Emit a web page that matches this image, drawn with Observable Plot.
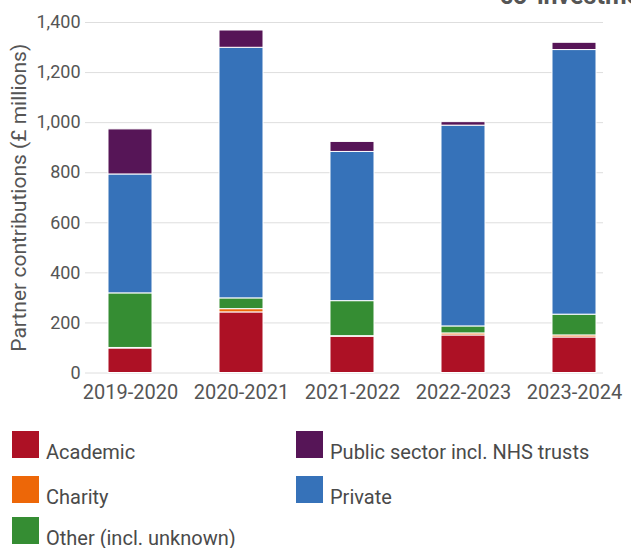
<!DOCTYPE html>
<html>
<head>
<meta charset="utf-8">
<script src="https://cdn.jsdelivr.net/npm/d3@7"></script>
<script src="https://cdn.jsdelivr.net/npm/@observablehq/plot@0.6"></script>
<style>
  html, body { margin: 0; padding: 0; background: #fff; overflow: hidden; }
  body { width: 631px; height: 548px; position: relative; font-family: Roboto, "Noto Sans", sans-serif; }
  #title { position: absolute; left: 500px; top: -16px; font: bold 25px/24px Roboto, sans-serif; color: #555; white-space: nowrap; }
  #legend { display: grid; grid-auto-flow: column; grid-template-rows: 45px 41px 41px; grid-template-columns: 284px 300px; padding-left: 12px; margin-top: 21px; }
  .item { display: flex; align-items: flex-start; }
  .sw { width: 27px; height: 27px; flex: none; }
  .lab { font-size: 20px; line-height: 20px; color: #4a4a4a; margin-left: 7px; margin-top: 11px; white-space: nowrap; }
</style>
</head>
<body>
<div id="title">co-investment</div>
<div id="chart"></div>
<div id="legend"></div>
<script>
const years = ["2019-2020", "2020-2021", "2021-2022", "2022-2023", "2023-2024"];
const categories = ["Academic", "Charity", "Other (incl. unknown)", "Private", "Public sector incl. NHS trusts"];
const academic = [98, 242, 145, 150, 142];
const charity  = [2, 13, 2, 8, 8];
const other    = [218, 43, 140, 28, 83];
const privateS = [475, 1001, 596, 802, 1057];
const publicS  = [180, 69, 40, 14, 29];
const yTicks = [0, 200, 400, 600, 800, 1000, 1200, 1400];
const legendOrder = ["Academic", "Charity", "Other (incl. unknown)", "Public sector incl. NHS trusts", "Private"];

const colors = ["#ad1125", "#ed6708", "#358d33", "#3672b9", "#561557"];
const series = [academic, charity, other, privateS, publicS];

const rows = [];
categories.forEach((c, i) => {
  years.forEach((y, j) => rows.push({year: y, category: c, value: series[i][j]}));
});

const chart = Plot.plot({
  width: 631,
  height: 410,
  marginLeft: 85,
  marginRight: 28,
  marginTop: 22,
  marginBottom: 37.5,
  style: {fontFamily: "Roboto, sans-serif", fontSize: "18px", color: "#555", background: "#fff"},
  x: {domain: years, range: [106.5, 598], paddingInner: 0.6, paddingOuter: 0},
  y: {domain: [0, 1400]},
  color: {domain: categories, range: colors},
  marks: [
    Plot.gridY(yTicks, {stroke: "#dedede", strokeOpacity: 1, strokeWidth: 1}),
    Plot.axisY(yTicks, {tickSize: 0, tickPadding: 5, fontSize: 18, tickFormat: d3.format(","),
      label: "Partner contributions (£ millions)", labelAnchor: "center", labelArrow: "none", labelOffset: 74}),
    Plot.axisX({tickSize: 0, tickPadding: 12, fontSize: 20, label: null}),
    Plot.barY(rows, {x: "year", y: "value", fill: "category", stroke: "#fff", strokeWidth: 1})
  ]
});
document.getElementById("chart").appendChild(chart);
// enlarge y axis label
chart.querySelectorAll("text").forEach(t => {
  if (t.textContent === "Partner contributions (£ millions)") t.setAttribute("font-size", 21);
});

const legend = document.getElementById("legend");
legendOrder.forEach(c => {
  const it = document.createElement("div");
  it.className = "item";
  const sw = document.createElement("div");
  sw.className = "sw";
  sw.style.background = colors[categories.indexOf(c)];
  const lab = document.createElement("span");
  lab.className = "lab";
  lab.textContent = c;
  it.appendChild(sw); it.appendChild(lab);
  legend.appendChild(it);
});
</script>
</body>
</html>
